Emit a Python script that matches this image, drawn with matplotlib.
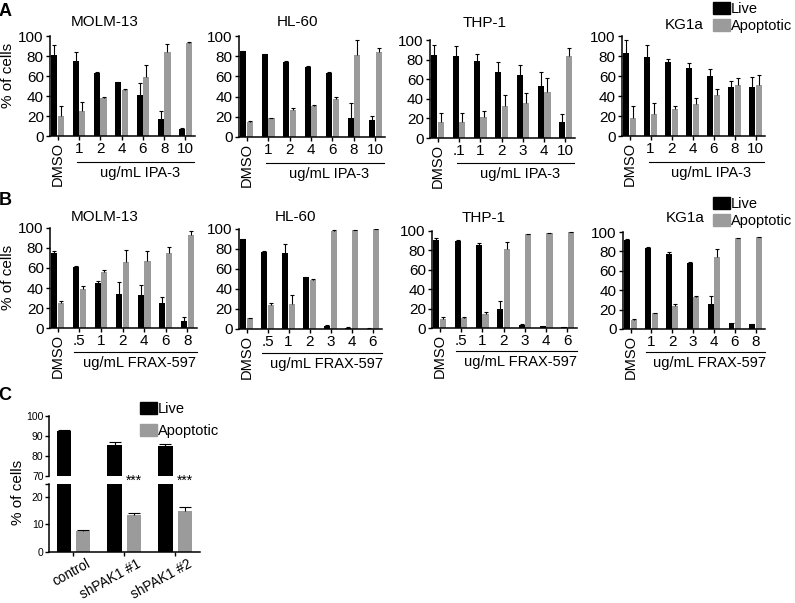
import numpy as np
import matplotlib
matplotlib.use('Agg')
import matplotlib.pyplot as plt
from matplotlib.patches import Patch
from matplotlib.transforms import blended_transform_factory, ScaledTranslation

plt.rcParams['font.family'] = ['Liberation Sans', 'DejaVu Sans']

W, H = 795, 603
GREY = '#9b9b9b'

# dose labels (ug/mL)
ipa_doses = ['DMSO', '1', '2', '4', '6', '8', '10']
ipa_doses_thp = ['DMSO', '.1', '1', '2', '3', '4', '10']
frax_doses_molm = ['DMSO', '.5', '1', '2', '4', '6', '8']
frax_doses_hl = ['DMSO', '.5', '1', '2', '3', '4', '6']
frax_doses_kg = ['DMSO', '1', '2', '3', '4', '6', '8']

# A: IPA-3
a_molm_live = [81, 75, 63, 54, 41, 17, 7]
a_molm_live_err = [10, 9, 1, 0.5, 12, 8, 1.5]
a_molm_apop = [20, 25, 38, 46, 59, 84, 93]
a_molm_apop_err = [10, 9, 1, 0.8, 12, 8, 1.5]

a_hl_live = [85, 82, 74, 69, 63, 19, 17]
a_hl_live_err = [0.3, 0.5, 1.5, 1, 1.5, 15, 4]
a_hl_apop = [15, 18.5, 27, 31, 38, 81, 84]
a_hl_apop_err = [0.5, 0.5, 2, 1, 2, 15, 4]

a_thp_live = [85, 84, 79, 67, 64, 53, 16]
a_thp_live_err = [10, 10, 7, 11, 10, 14, 8]
a_thp_apop = [16, 16, 21, 33, 36, 47, 84]
a_thp_apop_err = [10, 10, 7, 11, 10, 14, 8]

a_kg_live = [83, 79, 74, 68, 60, 49, 49]
a_kg_live_err = [13, 12, 3, 5, 7, 6, 10]
a_kg_apop = [18, 22, 27, 32, 41, 51, 51]
a_kg_apop_err = [12, 11, 3, 6, 6, 7, 10]

# B: FRAX-597
b_molm_live = [75, 61, 45, 34, 33, 25, 7]
b_molm_live_err = [2, 1, 2, 12, 10, 6, 4]
b_molm_apop = [25, 39, 56, 66, 67, 75, 93]
b_molm_apop_err = [2, 3, 2, 12, 10, 6, 4]

b_hl_live = [90, 77, 76, 52, 3, 1.5, 0.5]
b_hl_live_err = [0.3, 1, 9, 0.3, 1, 0.5, 0.2]
b_hl_apop = [11, 24, 25, 49, 98, 99, 99.5]
b_hl_apop_err = [0.5, 2, 9, 0.5, 0.5, 0.3, 0.3]

b_thp_live = [91, 90, 86, 20, 3.5, 2, 1]
b_thp_live_err = [2, 0.5, 2, 8, 0.2, 0.3, 0.1]
b_thp_apop = [9.5, 10.5, 14.5, 81, 97, 98, 99]
b_thp_apop_err = [1.5, 1, 2.5, 8, 0.3, 0.3, 0.3]

b_kg_live = [92, 84, 77, 68, 26, 6, 5]
b_kg_live_err = [0.5, 0.3, 2, 1, 8, 0.2, 0.2]
b_kg_apop = [9.5, 16.5, 24, 33, 74, 94, 95]
b_kg_apop_err = [0.5, 0.3, 2, 1.5, 8, 0.3, 0.3]

# C: shPAK1 knockdown
c_groups = ['control', 'shPAK1 #1', 'shPAK1 #2']
c_live = [92.3, 85.5, 85.2]
c_live_err = [0.6, 1.5, 1.0]
c_apop = [7.8, 13.5, 15.0]
c_apop_err = [0.3, 0.6, 1.2]
c_sig = ['', '***', '***']

fig = plt.figure(figsize=(W / 100, H / 100), dpi=100)


def add_ax(l, t, r, b):
    return fig.add_axes([l / W, 1 - b / H, (r - l) / W, (b - t) / H])


def style(ax):
    for s in ['top', 'right']:
        ax.spines[s].set_visible(False)
    ax.spines['left'].set_linewidth(1.1)
    ax.spines['bottom'].set_linewidth(1.1)
    ax.tick_params(width=1, length=3, pad=1.5, labelsize=11)


def up_err(ax, x, y, err, cap):
    # one sided (upwards) error bars, like prism
    eb = ax.errorbar(x, y, yerr=[np.zeros(len(y)), err], fmt='none', ecolor='black',
                     elinewidth=0.8, capsize=cap, capthick=0.8)
    eb.lines[1][0].set_visible(False)


def dose_panel(box, labels, live, live_err, apop, apop_err, title, title_xy, agent, span, line_y, text_y):
    ax = add_ax(*box)
    x = np.arange(len(labels))
    ax.bar(x - 0.155, live, 0.28, color='black')
    ax.bar(x + 0.155, apop, 0.29, color=GREY)
    up_err(ax, x - 0.155, live, live_err, 1.5)
    up_err(ax, x + 0.155, apop, apop_err, 1.5)
    ax.set_xlim(-0.36, len(labels) - 0.55)
    ax.set_ylim(0, 100)
    ax.set_yticks(range(0, 101, 20))
    ax.set_xticks(x)
    ax.set_xticklabels(labels)
    style(ax)
    dmso = ax.get_xticklabels()[0]
    dmso.set_rotation(90)
    dmso.set_fontsize(10.5)
    trans = blended_transform_factory(ax.transData, ax.transAxes)
    ax.plot(span, [line_y, line_y], color='black', lw=0.8, transform=trans, clip_on=False)
    ax.text(np.mean(span) + 0.2, text_y, agent, transform=trans, ha='center', va='center', fontsize=10.5)
    fig.text(title_xy[0] / W, 1 - title_xy[1] / H, title, ha='center', va='center', fontsize=11)
    return ax


a_span, b_span = (0.92, 6.4), (0.75, 6.45)
dose_panel((50, 36, 195, 136), ipa_doses, a_molm_live, a_molm_live_err, a_molm_apop, a_molm_apop_err,
           'MOLM-13', (105, 22), 'ug/mL IPA-3', a_span, -0.26, -0.37)
dose_panel((239, 36, 385, 137), ipa_doses, a_hl_live, a_hl_live_err, a_hl_apop, a_hl_apop_err,
           'HL-60', (298, 22), 'ug/mL IPA-3', a_span, -0.26, -0.37)
dose_panel((430, 40, 575, 138), ipa_doses_thp, a_thp_live, a_thp_live_err, a_thp_apop, a_thp_apop_err,
           'THP-1', (485, 23), 'ug/mL IPA-3', a_span, -0.26, -0.37)
dose_panel((622, 36, 765, 136), ipa_doses, a_kg_live, a_kg_live_err, a_kg_apop, a_kg_apop_err,
           'KG1a', (684, 25), 'ug/mL IPA-3', a_span, -0.26, -0.37)

dose_panel((50, 228, 197, 328), frax_doses_molm, b_molm_live, b_molm_live_err, b_molm_apop, b_molm_apop_err,
           'MOLM-13', (105, 217), 'ug/mL FRAX-597', b_span, -0.24, -0.35)
dose_panel((239, 229, 382, 329), frax_doses_hl, b_hl_live, b_hl_live_err, b_hl_apop, b_hl_apop_err,
           'HL-60', (295, 217), 'ug/mL FRAX-597', b_span, -0.24, -0.35)
dose_panel((432, 231, 577, 328), frax_doses_hl, b_thp_live, b_thp_live_err, b_thp_apop, b_thp_apop_err,
           'THP-1', (484, 218), 'ug/mL FRAX-597', b_span, -0.24, -0.35)
dose_panel((623, 232, 765, 329), frax_doses_kg, b_kg_live, b_kg_live_err, b_kg_apop, b_kg_apop_err,
           'KG1a', (685, 218), 'ug/mL FRAX-597', b_span, -0.24, -0.35)

# C: broken y axis
ax_top = add_ax(49, 416, 200, 476)
ax_bot = add_ax(49, 484, 200, 552)
xc = np.arange(len(c_groups))
for ax in (ax_top, ax_bot):
    ax.bar(xc - 0.19, c_live, 0.28, color='black')
    ax.bar(xc + 0.19, c_apop, 0.28, color=GREY)
    up_err(ax, xc - 0.19, c_live, c_live_err, 4)
    up_err(ax, xc + 0.19, c_apop, c_apop_err, 4)
    ax.set_xlim(-0.48, 2.49)
    style(ax)
    ax.tick_params(axis='y', labelsize=7.5, length=3, pad=1)

ax_top.set_ylim(70, 100)
ax_top.set_yticks([70, 80, 90, 100])
ax_top.spines['bottom'].set_visible(False)
ax_top.set_xticks([])

ax_bot.set_ylim(0, 24.7)
ax_bot.set_yticks([0, 10, 20, 24.7], ['0', '10', '20', ''])
ax_bot.set_xticks(xc)
ax_bot.tick_params(axis='x', length=3, pad=0.5)
ax_bot.set_xticklabels(c_groups, rotation=29, ha='right', rotation_mode='anchor', fontsize=9.8)
shift = ScaledTranslation(12 / 100, 0, fig.dpi_scale_trans)
for lab in ax_bot.get_xticklabels():
    lab.set_transform(lab.get_transform() + shift)
trans = blended_transform_factory(ax_bot.transData, ax_bot.transAxes)
for i, s in enumerate(c_sig):
    ax_bot.text(xc[i] + 0.19, 1.05, s, transform=trans, ha='center', va='center', fontsize=10)

# legends
handles = [Patch(color='black'), Patch(color=GREY)]
for left, top, spacing in [(713, 2, 0.23), (713, 197, 0.23), (140, 402, 0.55)]:
    fig.legend(handles, ['Live', 'Apoptotic'], loc='upper left',
               bbox_to_anchor=(left / W, 1 - top / H), frameon=False, borderpad=0,
               borderaxespad=0, handlelength=1.15, handleheight=0.85, handletextpad=0.1,
               labelspacing=spacing, fontsize=10.5)

# y labels and panel letters
for yc in [75, 277]:
    fig.text(8 / W, 1 - yc / H, '% of cells', rotation=90, ha='center', va='center', fontsize=11)
fig.text(18 / W, 1 - 492 / H, '% of cells', rotation=90, ha='center', va='center', fontsize=11)
for letter, yc in [('A', 12), ('B', 201), ('C', 396)]:
    fig.text(5 / W, 1 - yc / H, letter, ha='center', va='center', fontsize=13, fontweight='bold')

fig.savefig('out.png', dpi=100)
